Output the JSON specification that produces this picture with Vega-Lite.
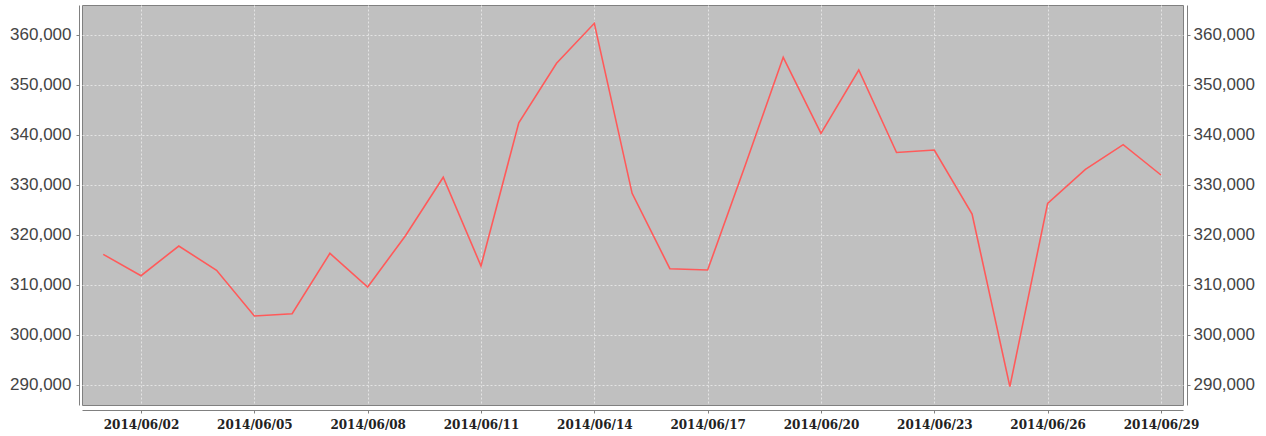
{
  "$schema": "https://vega.github.io/schema/vega-lite/v6.json",
  "width": 1101,
  "height": 400,
  "autosize": "none",
  "padding": {"left": 82, "top": 5, "right": 83, "bottom": 31},
  "background": "white",
  "config": {"view": {"fill": "#c0c0c0", "stroke": "#808080", "strokeWidth": 1}},
  "data": {"values": [
    {"date": "2014-06-01", "value": 316060},
    {"date": "2014-06-02", "value": 311800},
    {"date": "2014-06-03", "value": 317740},
    {"date": "2014-06-04", "value": 312870},
    {"date": "2014-06-05", "value": 303740},
    {"date": "2014-06-06", "value": 304200},
    {"date": "2014-06-07", "value": 316270},
    {"date": "2014-06-08", "value": 309530},
    {"date": "2014-06-09", "value": 319800},
    {"date": "2014-06-10", "value": 331480},
    {"date": "2014-06-11", "value": 313740},
    {"date": "2014-06-12", "value": 342400},
    {"date": "2014-06-13", "value": 354280},
    {"date": "2014-06-14", "value": 362280},
    {"date": "2014-06-15", "value": 328280},
    {"date": "2014-06-16", "value": 313200},
    {"date": "2014-06-17", "value": 312940},
    {"date": "2014-06-18", "value": 334000},
    {"date": "2014-06-19", "value": 355480},
    {"date": "2014-06-20", "value": 340280},
    {"date": "2014-06-21", "value": 352940},
    {"date": "2014-06-22", "value": 336440},
    {"date": "2014-06-23", "value": 336940},
    {"date": "2014-06-24", "value": 324140},
    {"date": "2014-06-25", "value": 289600},
    {"date": "2014-06-26", "value": 326280},
    {"date": "2014-06-27", "value": 333080},
    {"date": "2014-06-28", "value": 338000},
    {"date": "2014-06-29", "value": 331940}
  ]},
  "encoding": {
    "x": {
      "field": "date",
      "type": "temporal",
      "scale": {
        "type": "utc",
        "domain": [
          {"year": 2014, "month": 5, "date": 31, "hours": 10, "minutes": 30, "utc": true},
          {"year": 2014, "month": 6, "date": 29, "hours": 14, "utc": true}
        ]
      },
      "axis": {
        "title": null,
        "values": [
          {"year": 2014, "month": 6, "date": 2, "utc": true},
          {"year": 2014, "month": 6, "date": 5, "utc": true},
          {"year": 2014, "month": 6, "date": 8, "utc": true},
          {"year": 2014, "month": 6, "date": 11, "utc": true},
          {"year": 2014, "month": 6, "date": 14, "utc": true},
          {"year": 2014, "month": 6, "date": 17, "utc": true},
          {"year": 2014, "month": 6, "date": 20, "utc": true},
          {"year": 2014, "month": 6, "date": 23, "utc": true},
          {"year": 2014, "month": 6, "date": 26, "utc": true},
          {"year": 2014, "month": 6, "date": 29, "utc": true}
        ],
        "format": "%Y/%m/%d",
        "labelFont": "DejaVu Serif",
        "labelFontSize": 12,
        "labelFontWeight": "bold",
        "labelColor": "#222222",
        "labelPadding": 6,
        "labelFlush": false,
        "offset": 5,
        "domainColor": "#808080",
        "tickColor": "#808080",
        "tickSize": 3,
        "grid": true,
        "gridColor": "#e4e4e4",
        "gridDash": [2, 2],
        "gridOpacity": 1,
        "gridWidth": 1
      }
    }
  },
  "layer": [
    {
      "mark": {"type": "line", "color": "#ff5a5a", "strokeWidth": 1.6},
      "encoding": {
        "y": {
          "field": "value",
          "type": "quantitative",
          "scale": {"domain": [285940, 365940], "nice": false, "zero": false},
          "axis": {
            "title": null,
            "values": [290000, 300000, 310000, 320000, 330000, 340000, 350000, 360000],
            "format": ",d",
            "labelFont": "Liberation Sans",
            "labelFontSize": 17,
            "labelColor": "#444444",
            "labelPadding": 5,
            "offset": 3,
            "domainColor": "#808080",
            "tickColor": "#808080",
            "tickSize": 3,
            "grid": true,
            "gridColor": "#e4e4e4",
            "gridDash": [2, 2],
            "gridOpacity": 1
          }
        }
      }
    },
    {
      "mark": {"type": "line", "opacity": 0},
      "encoding": {
        "y": {
          "field": "value",
          "type": "quantitative",
          "axis": {
            "orient": "right",
            "title": null,
            "values": [290000, 300000, 310000, 320000, 330000, 340000, 350000, 360000],
            "format": ",d",
            "labelFont": "Liberation Sans",
            "labelFontSize": 17,
            "labelColor": "#444444",
            "labelPadding": 3,
            "offset": 4,
            "domainColor": "#808080",
            "tickColor": "#808080",
            "tickSize": 3,
            "grid": false
          }
        }
      }
    }
  ],
  "resolve": {"axis": {"y": "independent"}}
}
